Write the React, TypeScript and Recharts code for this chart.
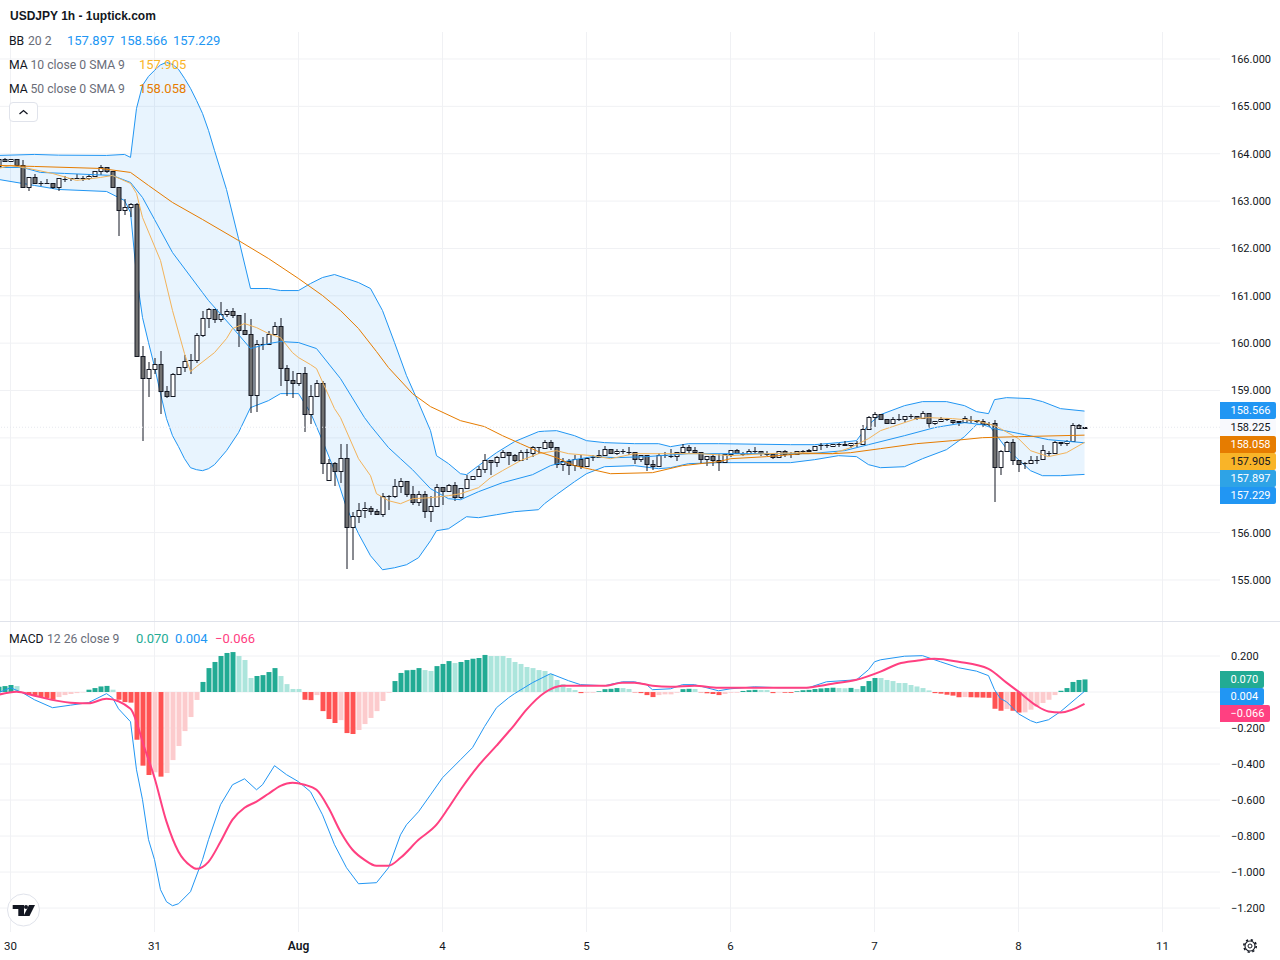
import React from "react";
import {
  Area,
  Bar,
  CartesianGrid,
  Cell,
  ComposedChart,
  Line,
  ReferenceLine,
  XAxis,
  YAxis,
} from "recharts";

const FONT = "Roboto, sans-serif";
const TEXT = "#131722";
const GRID = "#f0f1f4";

const firstBar = -2;

const opens = [
  163.74,163.894,163.851,163.894,163.767,163.302,163.513,163.387,163.39,163.387,
  163.302,163.47,163.485,163.49,163.49,163.492,163.534,163.64,163.725,163.64,
  163.302,162.816,162.879,162.943,159.731,159.266,159.457,159.562,158.992,158.879,
  159.351,159.499,159.63,159.647,160.175,160.534,160.724,160.513,160.619,160.675,
  160.598,160.281,160.196,158.907,159.985,159.985,160.196,160.365,159.478,159.224,
  159.161,159.372,158.506,158.886,159.161,157.111,157.47,157.301,157.576,156.118,
  156.351,156.477,156.52,156.456,156.393,156.766,156.77,156.985,157.09,156.816,
  156.646,156.816,156.456,156.562,156.963,156.879,157.006,156.752,156.942,157.132,
  157.196,157.344,157.534,157.499,157.597,157.703,157.64,157.534,157.696,157.682,
  157.8,157.788,157.914,157.809,157.449,157.513,157.428,157.555,157.414,157.59,
  157.597,157.64,157.766,157.682,157.724,157.71,157.703,157.555,157.64,157.449,
  157.407,157.64,157.625,157.618,157.703,157.809,157.745,157.703,157.555,157.618,
  157.534,157.492,157.661,157.745,157.668,157.661,157.71,157.724,157.661,157.661,
  157.597,157.724,157.668,157.661,157.724,157.745,157.745,157.851,157.844,157.83,
  157.858,157.872,157.851,157.886,157.871,158.188,158.435,158.505,158.4,158.315,
  158.4,158.386,158.456,158.456,158.421,158.526,158.315,158.357,158.4,158.379,
  158.357,158.336,158.386,158.379,158.357,158.301,158.315,157.379,157.724,157.907,
  157.533,157.463,157.463,157.533,157.555,157.674,157.674,157.907,157.886,157.935,158.273,158.21,
];

const highs = [
  163.9,163.9,163.894,163.894,163.858,163.513,163.577,163.429,163.464,163.387,
  163.492,163.534,163.492,163.563,163.527,163.57,163.64,163.767,163.725,163.64,
  163.302,163.048,162.964,162.957,159.95,159.612,159.689,159.844,159.104,159.365,
  159.5,159.752,159.774,160.217,160.689,160.745,160.724,160.879,160.724,160.745,
  160.598,160.64,160.513,160.069,160.14,160.252,160.45,160.534,159.548,159.421,
  159.372,159.506,159.126,159.231,159.21,157.555,157.499,157.872,157.872,156.442,
  156.625,156.654,156.562,156.492,156.844,156.794,157.132,157.154,157.09,156.985,
  156.872,156.872,156.773,157.027,156.963,157.027,157.069,156.942,157.224,157.196,
  157.414,157.661,157.54,157.625,157.745,157.703,157.661,157.745,157.773,157.837,
  157.81,157.957,157.957,157.809,157.576,157.555,157.64,157.64,157.604,157.64,
  157.745,157.837,157.766,157.766,157.766,157.816,157.703,157.64,157.64,157.534,
  157.682,157.703,157.766,157.703,157.872,157.851,157.809,157.703,157.618,157.661,
  157.661,157.661,157.745,157.766,157.71,157.766,157.809,157.724,157.717,157.661,
  157.724,157.752,157.703,157.724,157.752,157.766,157.83,157.893,157.879,157.872,
  157.9,157.928,157.893,157.942,158.273,158.47,158.555,158.505,158.4,158.449,
  158.505,158.455,158.512,158.456,158.576,158.526,158.357,158.449,158.421,158.379,
  158.357,158.456,158.47,158.379,158.4,158.343,158.379,157.745,157.942,157.977,
  157.533,157.498,157.618,157.611,157.85,157.717,157.928,157.914,157.963,158.322,158.294,158.24,
];

const lows = [
  163.73,163.85,163.851,163.767,163.302,163.225,163.387,163.33,163.38,163.267,
  163.225,163.415,163.45,163.485,163.45,163.457,163.534,163.563,163.605,163.302,
  162.274,162.724,162.689,159.731,157.963,158.893,159.372,158.52,158.858,158.879,
  159.351,159.421,159.372,159.597,160.147,160.337,160.443,160.478,160.569,160.548,
  159.936,160.196,158.541,158.562,159.872,159.985,160.196,159.126,158.914,158.858,
  159.126,158.154,158.309,158.886,157.252,157.111,156.999,157.062,155.245,155.435,
  156.217,156.323,156.386,156.393,156.344,156.492,156.759,156.865,156.773,156.604,
  156.59,156.323,156.238,156.562,156.604,156.879,156.689,156.731,156.942,157.132,
  157.196,157.273,157.238,157.414,157.597,157.449,157.506,157.534,157.555,157.625,
  157.682,157.788,157.766,157.393,157.323,157.238,157.323,157.365,157.414,157.534,
  157.597,157.64,157.682,157.661,157.689,157.661,157.463,157.506,157.323,157.344,
  157.407,157.59,157.59,157.534,157.703,157.682,157.703,157.471,157.428,157.428,
  157.323,157.485,157.625,157.682,157.633,157.661,157.682,157.64,157.633,157.576,
  157.597,157.618,157.597,157.661,157.71,157.724,157.745,157.773,157.809,157.83,
  157.83,157.844,157.816,157.836,157.871,158.188,158.245,158.4,158.315,158.315,
  158.386,158.35,158.428,158.4,158.421,158.224,158.301,158.357,158.379,158.315,
  158.28,158.336,158.343,158.336,158.252,158.259,156.674,157.245,157.724,157.442,
  157.308,157.371,157.463,157.463,157.555,157.639,157.674,157.85,157.85,157.935,158.21,158.2,
];

const closes = [
  163.88,163.851,163.894,163.767,163.302,163.513,163.387,163.39,163.385,163.302,
  163.492,163.475,163.49,163.495,163.495,163.534,163.64,163.725,163.64,163.302,
  162.816,162.879,162.943,159.731,159.266,159.457,159.562,158.992,158.879,159.351,
  159.499,159.626,159.635,160.175,160.534,160.724,160.513,160.619,160.675,160.598,
  160.281,160.196,158.907,159.985,159.99,160.196,160.365,159.478,159.224,159.161,
  159.372,158.506,158.886,159.161,157.47,157.47,157.301,157.576,156.118,156.351,
  156.477,156.52,156.456,156.393,156.766,156.77,156.985,157.09,156.816,156.646,
  156.816,156.456,156.562,156.963,156.879,157.006,156.752,156.942,157.132,157.196,
  157.344,157.534,157.499,157.597,157.703,157.64,157.534,157.703,157.7,157.809,
  157.805,157.914,157.809,157.449,157.513,157.428,157.555,157.414,157.576,157.595,
  157.64,157.766,157.682,157.724,157.727,157.706,157.555,157.64,157.449,157.407,
  157.64,157.645,157.62,157.703,157.809,157.745,157.703,157.555,157.618,157.534,
  157.492,157.661,157.745,157.682,157.665,157.724,157.714,157.682,157.657,157.597,
  157.724,157.661,157.664,157.724,157.728,157.724,157.83,157.848,157.847,157.872,
  157.862,157.844,157.893,157.89,158.188,158.435,158.505,158.4,158.315,158.4,
  158.395,158.455,158.46,158.414,158.526,158.315,158.357,158.4,158.396,158.336,
  158.336,158.414,158.383,158.357,158.294,158.298,157.379,157.724,157.907,157.533,
  157.442,157.467,157.533,157.537,157.738,157.67,157.907,157.886,157.935,158.273,158.21,158.225,
];

const macdHist = [
  0.03,0.033,0.039,0.033,-0.004,-0.017,-0.02,-0.028,-0.033,-0.043,
  -0.028,-0.017,-0.011,-0.006,-0.002,0.013,0.022,0.031,0.034,0.013,
  -0.043,-0.056,-0.059,-0.265,-0.409,-0.461,-0.446,-0.47,-0.45,-0.378,
  -0.3,-0.217,-0.139,-0.044,0.056,0.133,0.167,0.2,0.217,0.222,
  0.2,0.178,0.078,0.089,0.094,0.111,0.133,0.089,0.044,0.017,
  0.017,-0.043,-0.045,-0.017,-0.106,-0.15,-0.172,-0.156,-0.228,-0.233,
  -0.211,-0.178,-0.144,-0.106,-0.05,-0.004,0.061,0.106,0.121,0.123,
  0.133,0.122,0.117,0.144,0.156,0.172,0.161,0.167,0.178,0.185,
  0.189,0.206,0.2,0.2,0.2,0.189,0.167,0.156,0.139,0.133,
  0.122,0.117,0.1,0.067,0.044,0.022,0.011,-0.006,-0.004,-0.004,
  0.004,0.016,0.018,0.022,0.022,0.017,-0.002,-0.006,-0.017,-0.028,
  -0.017,-0.013,-0.013,-0.004,0.016,0.018,0.017,-0.002,-0.007,-0.011,
  -0.017,-0.011,-0.004,-0.004,0.006,0.01,0.012,0.011,0.011,-0.006,
  -0.002,-0.004,-0.005,0.004,0.01,0.012,0.017,0.02,0.022,0.024,
  0.022,0.021,0.023,0.017,0.033,0.061,0.078,0.078,0.067,0.061,
  0.05,0.05,0.039,0.031,0.022,0.009,-0.006,-0.009,-0.015,-0.02,
  -0.029,-0.028,-0.029,-0.03,-0.031,-0.032,-0.093,-0.104,-0.094,-0.104,
  -0.114,-0.113,-0.098,-0.081,-0.061,-0.043,-0.017,0.007,0.022,0.056,0.067,0.07,
];

// [bar, lower, upper]
const bollingerBand = [
  [-2,163.457,163.964],[4,163.33,163.985],[8,163.245,163.97],[16,163.203,163.964],[19,163.013,163.985],
  [20,162.759,163.922],[21,161.428,164.957],[22,160.541,165.443],[23,160.013,165.633],[24,159.505,165.76],
  [25,158.935,165.876],[26,158.407,165.929],[27,158.047,165.887],[28,157.815,165.781],[29,157.561,165.591],
  [30,157.371,165.38],[31,157.329,165.126],[32,157.308,164.851],[33,157.35,164.492],[34,157.435,164.069],
  [36,157.73,163.245],[38,158.111,162.21],[40,158.639,161.154],[43,158.787,161.154],[45,158.935,161.111],
  [48,158.935,161.111],[50,158.533,161.259],[52,157.942,161.386],[54,157.308,161.449],[56,156.526,161.365],
  [58,155.977,161.28],[60,155.512,161.154],[62,155.216,160.689],[64,155.258,160.013],[66,155.322,159.315],
  [68,155.47,158.745],[70,155.829,158.153],[71,156.04,157.625],[73,156.082,157.456],[75,156.251,157.244],
  [76,156.336,157.223],[78,156.315,157.414],[81,156.378,157.688],[84,156.442,157.921],[88,156.484,158.132],
  [89,156.611,158.142],[91,156.801,158.153],[94,157.075,158.047],[96,157.244,157.942],[99,157.392,157.9],
  [104,157.414,157.878],[108,157.35,157.878],[110,157.371,157.815],[113,157.456,157.878],[118,157.477,157.878],
  [130,157.477,157.857],[134,157.54,157.857],[138,157.625,157.9],[141,157.604,157.942],[143,157.435,158.28],
  [145,157.371,158.491],[149,157.392,158.681],[152,157.561,158.766],[156,157.752,158.766],[159,158.026,158.681],
  [161,158.28,158.555],[163,158.28,158.512],[164,158.111,158.808],[166,157.773,158.85],[170,157.308,158.829],
  [172,157.202,158.766],[175,157.202,158.618],[179,157.229,158.566],
];

const bollingerBasis = [
  [-2,163.71],[2,163.71],[5,163.605],[9,163.584],[17,163.541],[20,163.393],[22,163.076],[24,162.612],
  [27,161.914],[32,161.069],[33,160.9],[37,160.329],[40,159.886],[43,159.991],[45,160.034],[48,160.013],
  [51,159.886],[55,159.252],[59,158.428],[60,158.259],[63,157.794],[65,157.561],[67,157.329],[70,156.928],
  [73,156.716],[75,156.695],[78,156.864],[82,157.054],[87,157.223],[90,157.414],[93,157.519],[97,157.604],
  [101,157.583],[106,157.604],[113,157.667],[125,157.667],[133,157.667],[139,157.73],[143,157.857],
  [149,158.047],[154,158.216],[159,158.322],[162,158.28],[164,158.195],[169,158.069],[173,157.963],[179,157.897],
];

const ma10 = [
  [-2,163.689],[0,163.753],[3,163.689],[7,163.584],[11,163.436],[15,163.499],[17,163.541],[20,163.372],
  [21,163.161],[22,162.654],[25,161.745],[27,160.689],[29,159.78],[30,159.4],[31,159.505],[34,159.801],
  [36,160.097],[37,160.308],[39,160.414],[41,160.329],[43,160.203],[45,160.118],[47,159.801],[48,159.696],
  [50,159.548],[51,159.463],[54,158.618],[55,158.428],[58,157.561],[60,157.202],[61,156.822],[63,156.674],
  [65,156.611],[67,156.716],[70,156.737],[73,156.78],[75,156.822],[78,156.949],[80,157.16],[82,157.308],
  [85,157.519],[88,157.667],[91,157.73],[93,157.667],[97,157.625],[100,157.561],[104,157.667],[109,157.667],
  [115,157.667],[120,157.625],[126,157.667],[132,157.688],[137,157.667],[140,157.794],[143,157.984],
  [145,158.153],[151,158.407],[153,158.428],[157,158.407],[161,158.364],[164,158.259],[165,158.195],
  [168,157.984],[170,157.73],[173,157.604],[176,157.688],[179,157.905],
];

const ma50 = [
  [-2,163.753],[4,163.731],[15,163.689],[20,163.605],[23,163.33],[27,162.971],[32,162.612],[38,162.168],
  [43,161.787],[48,161.365],[52,161.006],[55,160.689],[58,160.308],[61,159.822],[63,159.484],[67,158.935],
  [70,158.66],[75,158.364],[79,158.238],[82,158.047],[85,157.878],[88,157.709],[91,157.583],[94,157.414],
  [97,157.329],[100,157.244],[107,157.266],[112,157.414],[118,157.498],[120,157.561],[126,157.604],
  [132,157.667],[137,157.667],[140,157.688],[145,157.773],[151,157.878],[157,157.942],[162,158.005],
  [168,158.026],[179,158.058],
];

const macdLine = [
  [-2,-0.004],[0,0.024],[2,-0.004],[4,-0.043],[7,-0.087],[10,-0.073],[13,-0.059],[16,-0.009],[17,-0.032],
  [18,-0.093],[20,-0.165],[21,-0.432],[22,-0.598],[23,-0.82],[24,-0.931],[25,-1.098],[26,-1.165],[27,-1.187],
  [28,-1.176],[30,-1.109],[32,-0.931],[33,-0.82],[35,-0.626],[37,-0.515],[39,-0.482],[41,-0.543],[42,-0.515],
  [44,-0.409],[46,-0.459],[48,-0.498],[50,-0.554],[52,-0.682],[54,-0.848],[56,-0.976],[58,-1.065],[61,-1.059],
  [63,-0.976],[65,-0.793],[66,-0.737],[68,-0.665],[70,-0.571],[72,-0.476],[75,-0.376],[77,-0.309],[79,-0.192],
  [81,-0.087],[83,-0.032],[84,-0.009],[87,0.052],[90,0.102],[93,0.063],[95,0.041],[99,0.035],[102,0.057],
  [104,0.057],[106,0.041],[107,0.013],[110,0.018],[112,0.041],[114,0.041],[118,0.007],[120,0.018],[124,0.029],
  [128,0.024],[133,0.024],[136,0.057],[141,0.068],[143,0.124],[144,0.168],[145,0.179],[149,0.199],[152,0.202],
  [155,0.168],[158,0.135],[161,0.116],[163,0.091],[164,0.013],[165,-0.037],[166,-0.054],[168,-0.121],
  [170,-0.159],[171,-0.171],[173,-0.154],[175,-0.109],[179,0.004],
];

const signalLine = [
  [-2,-0.015],[1,0.002],[4,-0.021],[10,-0.059],[13,-0.062],[16,-0.037],[20,-0.093],[21,-0.165],[22,-0.276],
  [24,-0.476],[26,-0.72],[28,-0.887],[30,-0.965],[31,-0.982],[33,-0.943],[35,-0.832],[37,-0.709],[39,-0.643],
  [41,-0.609],[43,-0.565],[45,-0.521],[47,-0.504],[49,-0.515],[51,-0.543],[53,-0.643],[55,-0.776],[57,-0.876],
  [59,-0.932],[61,-0.965],[63,-0.965],[65,-0.921],[68,-0.821],[71,-0.737],[73,-0.643],[75,-0.543],[78,-0.409],
  [81,-0.298],[84,-0.182],[86,-0.098],[89,-0.004],[92,0.035],[99,0.035],[102,0.052],[104,0.052],[107,0.035],
  [110,0.029],[114,0.035],[118,0.024],[132,0.024],[137,0.046],[141,0.068],[145,0.113],[148,0.157],[151,0.174],
  [154,0.185],[158,0.168],[163,0.129],[166,0.052],[168,0.002],[171,-0.076],[173,-0.108],[175,-0.114],[179,-0.066],
];

const dayTicks = [0, 24, 48, 72, 96, 120, 144, 168, 192];
const dayLabels = ["30", "31", "Aug", "4", "5", "6", "7", "8", "11"];
const priceTicks = [155, 156, 157, 158, 159, 160, 161, 162, 163, 164, 165, 166];
const hiddenPriceLabels = [157, 158];
const macdTicks = [0.2, 0, -0.2, -0.4, -0.6, -0.8, -1, -1.2];
const hiddenMacdLabels = [0];

const lastClose = 158.225;
const priceTags = [
  { text: "158.566", top: 402, bg: "#2196f3", fg: "#ffffff" },
  { text: "158.225", top: 419, bg: "#f8f9fd", fg: "#131722" },
  { text: "158.058", top: 436, bg: "#e67c00", fg: "#ffffff" },
  { text: "157.905", top: 453, bg: "#f9b428", fg: "#131722" },
  { text: "157.897", top: 470, bg: "#2ea3e6", fg: "#ffffff" },
  { text: "157.229", top: 487, bg: "#2196f3", fg: "#ffffff" },
];
const macdTags = [
  { text: "0.070", top: 671, width: 44, bg: "#22ab94" },
  { text: "0.004", top: 688, width: 44, bg: "#2196f3" },
  { text: "\u22120.066", top: 705, width: 50, bg: "#ff4081" },
];

const X_DOMAIN: [number, number] = [-1.75, 201.583];
const PRICE_DOMAIN: [number, number] = [154.134, 166.57];
const MACD_DOMAIN: [number, number] = [-1.333, 0.389];
const PLOT_WIDTH = 1220;
const PRICE_TOP = 32;
const PRICE_HEIGHT = 589;
const MACD_HEIGHT = 310;

// grid positions, in the same scale the axes use
const gridX = dayTicks.map(
  (t) => ((t - X_DOMAIN[0]) / (X_DOMAIN[1] - X_DOMAIN[0])) * PLOT_WIDTH,
);
const gridPrice = priceTicks.map(
  (t) =>
    PRICE_TOP +
    ((PRICE_DOMAIN[1] - t) / (PRICE_DOMAIN[1] - PRICE_DOMAIN[0])) * PRICE_HEIGHT,
);
const gridMacd = macdTicks.map(
  (t) => ((MACD_DOMAIN[1] - t) / (MACD_DOMAIN[1] - MACD_DOMAIN[0])) * MACD_HEIGHT,
);

const toMap = (knots: number[][]) => new Map(knots.map((k) => [k[0], k[1]]));
const bandMap = new Map(bollingerBand.map((k) => [k[0], [k[1], k[2]]]));
const basisMap = toMap(bollingerBasis);
const ma10Map = toMap(ma10);
const ma50Map = toMap(ma50);
const macdMap = toMap(macdLine);
const signalMap = toMap(signalLine);

const priceRows = opens.map((open, k) => {
  const bar = k + firstBar;
  return {
    bar,
    open,
    close: closes[k],
    range: [lows[k], highs[k]],
    band: bandMap.get(bar) ?? null,
    basis: basisMap.get(bar) ?? null,
    ma10: ma10Map.get(bar) ?? null,
    ma50: ma50Map.get(bar) ?? null,
  };
});

const macdRows = macdHist.map((hist, k) => {
  const bar = k + firstBar;
  return {
    bar,
    hist,
    macd: macdMap.get(bar) ?? null,
    signal: signalMap.get(bar) ?? null,
  };
});

function histColor(k: number): string {
  const h = macdHist[k];
  const prev = k > 0 ? macdHist[k - 1] : -Infinity;
  if (h >= 0) return h > prev ? "#22ab94" : "#ace5dc";
  return h < prev ? "#ff5252" : "#fccbcd";
}

const Candle = (props: any) => {
  const { x, y, width, height, payload } = props;
  const [low, high] = payload.range;
  const perUnit = height / (high - low);
  const yOpen = y + (high - payload.open) * perUnit;
  const yClose = y + (high - payload.close) * perUnit;
  // snap the body to whole pixels so the outline stays crisp
  const top = Math.round(Math.min(yOpen, yClose)) + 0.5;
  const bodyH = Math.round(Math.abs(yOpen - yClose));
  const up = payload.close >= payload.open;
  const cx = x + width / 2;
  const wickTop = Math.round(y);
  const wickBottom = Math.round(y + height) + 1;
  return (
    <g>
      <line x1={cx} x2={cx} y1={wickTop} y2={wickBottom} stroke={TEXT} strokeWidth={1} />
      {bodyH > 0 ? (
        <rect
          x={x + 0.5}
          y={top}
          width={width - 1}
          height={bodyH}
          fill={up ? "#ffffff" : "#707070"}
          stroke={TEXT}
          strokeWidth={1}
        />
      ) : (
        <line x1={x} x2={x + width} y1={top} y2={top} stroke={TEXT} strokeWidth={1} />
      )}
    </g>
  );
};

const DayTick = (props: any) => {
  const { x, y, payload } = props;
  const label = dayLabels[dayTicks.indexOf(payload.value)];
  return (
    <text
      x={x}
      y={y}
      textAnchor="middle"
      dominantBaseline="central"
      fontFamily={FONT}
      fontSize={label === "Aug" ? 12 : 11.5}
      fontWeight={label === "Aug" ? 600 : 400}
      fill={TEXT}
    >
      {label}
    </text>
  );
};

const formatPrice = (v: number) =>
  hiddenPriceLabels.includes(v) ? "" : v.toFixed(3);
const formatMacd = (v: number) => {
  if (hiddenMacdLabels.includes(v)) return "";
  return v < 0 ? `\u2212${Math.abs(v).toFixed(3)}` : v.toFixed(3);
};

const axisTick = { fill: TEXT, fontSize: 11, fontFamily: FONT };
const NAME_SIZE = 12.2;

const Label = ({ x, y, color, bold, size, children, family }: any) => (
  <div
    style={{
      position: "absolute",
      left: x,
      top: y - 10,
      height: 20,
      lineHeight: "20px",
      whiteSpace: "nowrap",
      fontFamily: family ?? FONT,
      fontSize: size ?? 13,
      fontWeight: bold ? 700 : 400,
      color,
    }}
  >
    {children}
  </div>
);

const App = () => {
  return (
    <div
      style={{
        position: "absolute",
        left: 0,
        top: 0,
        width: 1280,
        height: 960,
        background: "#ffffff",
        overflow: "hidden",
      }}
    >
      <div style={{ position: "absolute", left: 0, top: 0 }}>
        <ComposedChart
          width={1280}
          height={621}
          data={priceRows}
          margin={{ top: PRICE_TOP, right: 0, bottom: 0, left: 0 }}
        >
          <CartesianGrid
            stroke={GRID}
            strokeWidth={1}
            verticalPoints={gridX}
            horizontalPoints={gridPrice}
          />
          <XAxis
            dataKey="bar"
            type="number"
            domain={X_DOMAIN}
            allowDataOverflow
            ticks={dayTicks}
            hide
          />
          <YAxis
            orientation="right"
            width={60}
            domain={PRICE_DOMAIN}
            allowDataOverflow
            ticks={priceTicks}
            interval={0}
            tickFormatter={formatPrice}
            tick={axisTick}
            tickLine={false}
            axisLine={false}
            tickMargin={5}
          />
          <Area
            dataKey="band"
            type="linear"
            connectNulls
            stroke="#2196f3"
            strokeWidth={1}
            fill="#2196f3"
            fillOpacity={0.1}
            dot={false}
            activeDot={false}
            isAnimationActive={false}
          />
          <Line dataKey="basis" type="linear" connectNulls stroke="#2196f3" strokeWidth={1} dot={false} activeDot={false} isAnimationActive={false} />
          <Line dataKey="ma10" type="linear" connectNulls stroke="#f3b35a" strokeWidth={1} dot={false} activeDot={false} isAnimationActive={false} />
          <Line dataKey="ma50" type="linear" connectNulls stroke="#e67c00" strokeWidth={1} dot={false} activeDot={false} isAnimationActive={false} />
          <Bar dataKey="range" barSize={5} shape={Candle} isAnimationActive={false} />
          <ReferenceLine y={lastClose} stroke="#e6e8ee" strokeDasharray="1 2" />
        </ComposedChart>
      </div>

      <div style={{ position: "absolute", left: 0, top: 621, width: 1280, height: 1, background: "#e0e3eb" }} />

      <div style={{ position: "absolute", left: 0, top: 622 }}>
        <ComposedChart
          width={1280}
          height={338}
          data={macdRows}
          margin={{ top: 0, right: 0, bottom: 0, left: 0 }}
        >
          <CartesianGrid
            stroke={GRID}
            strokeWidth={1}
            verticalPoints={gridX}
            horizontalPoints={gridMacd}
          />
          <XAxis
            dataKey="bar"
            type="number"
            domain={X_DOMAIN}
            allowDataOverflow
            ticks={dayTicks}
            interval={0}
            height={28}
            tick={<DayTick />}
            tickLine={false}
            axisLine={false}
            tickMargin={8}
          />
          <YAxis
            orientation="right"
            width={60}
            domain={MACD_DOMAIN}
            allowDataOverflow
            ticks={macdTicks}
            interval={0}
            tickFormatter={formatMacd}
            tick={axisTick}
            tickLine={false}
            axisLine={false}
            tickMargin={5}
          />
          <Bar dataKey="hist" barSize={5} isAnimationActive={false}>
            {macdRows.map((row, k) => (
              <Cell key={row.bar} fill={histColor(k)} />
            ))}
          </Bar>
          <Line dataKey="macd" type="linear" connectNulls stroke="#2196f3" strokeWidth={1} dot={false} activeDot={false} isAnimationActive={false} />
          <Line dataKey="signal" type="monotone" connectNulls stroke="#ff4081" strokeWidth={2} dot={false} activeDot={false} isAnimationActive={false} />
        </ComposedChart>
      </div>

      <Label x={10} y={16} color={TEXT} bold size={12} family="'Liberation Sans', Arial, sans-serif">
        USDJPY 1h - 1uptick.com
      </Label>

      <Label x={9} y={41} size={NAME_SIZE} color={TEXT}>BB</Label>
      <Label x={28} y={41} size={NAME_SIZE} color="#6a6d78">20 2</Label>
      <Label x={67} y={41} color="#2196f3">157.897</Label>
      <Label x={120} y={41} color="#2196f3">158.566</Label>
      <Label x={173} y={41} color="#2196f3">157.229</Label>

      <Label x={9} y={65} size={NAME_SIZE} color={TEXT}>MA</Label>
      <Label x={30.5} y={65} size={NAME_SIZE} color="#6a6d78">10 close 0 SMA 9</Label>
      <Label x={139} y={65} color="#f9b428">157.905</Label>

      <Label x={9} y={89} size={NAME_SIZE} color={TEXT}>MA</Label>
      <Label x={30.5} y={89} size={NAME_SIZE} color="#6a6d78">50 close 0 SMA 9</Label>
      <Label x={139} y={89} color="#e67c00">158.058</Label>

      <div
        style={{
          position: "absolute",
          left: 9,
          top: 102,
          width: 29,
          height: 20,
          boxSizing: "border-box",
          border: "1px solid #e0e3eb",
          borderRadius: 4,
          background: "#ffffff",
        }}
      >
        <svg width={27} height={18} style={{ display: "block" }}>
          <path d="M9.5 11 L13.5 7.5 L17.5 11" fill="none" stroke={TEXT} strokeWidth={1.3} />
        </svg>
      </div>

      <Label x={9} y={639} size={NAME_SIZE} color={TEXT}>MACD</Label>
      <Label x={47} y={639} size={NAME_SIZE} color="#6a6d78">12 26 close 9</Label>
      <Label x={136} y={639} color="#22ab94">0.070</Label>
      <Label x={175} y={639} color="#2196f3">0.004</Label>
      <Label x={215} y={639} color="#ff4081">{"\u22120.066"}</Label>

      {priceTags.map((tag) => (
        <div
          key={tag.text}
          style={{
            position: "absolute",
            left: 1220,
            top: tag.top,
            width: 56,
            height: 17,
            lineHeight: "17px",
            paddingLeft: 10.5,
            boxSizing: "border-box",
            background: tag.bg,
            color: tag.fg,
            fontFamily: FONT,
            fontSize: 11,
            borderRadius: "0 2px 2px 0",
          }}
        >
          {tag.text}
        </div>
      ))}
      {macdTags.map((tag) => (
        <div
          key={tag.text}
          style={{
            position: "absolute",
            left: 1220,
            top: tag.top,
            width: tag.width,
            height: 17,
            lineHeight: "17px",
            paddingLeft: 10.5,
            boxSizing: "border-box",
            background: tag.bg,
            color: "#ffffff",
            fontFamily: FONT,
            fontSize: 11,
            borderRadius: "0 2px 2px 0",
          }}
        >
          {tag.text}
        </div>
      ))}

      <svg width={40} height={40} style={{ position: "absolute", left: 4, top: 890 }}>
        <circle cx={19.5} cy={20} r={16} fill="#ffffff" stroke="#e0e3eb" />
        <path d="M8.7 15 H20 V26 H14.3 V19 H8.7 Z" fill={TEXT} />
        <circle cx={22} cy={17} r={2} fill={TEXT} />
        <path d="M25 15 H31 L25.5 26 H19.5 Z" fill={TEXT} />
      </svg>

      <svg width={18} height={18} style={{ position: "absolute", left: 1241, top: 937 }}>
        <circle cx={9} cy={9} r={5} fill="none" stroke={TEXT} strokeWidth={1.1} />
        <circle cx={9} cy={9} r={2} fill="none" stroke={TEXT} strokeWidth={1} />
        <circle cx={9} cy={9} r={6.2} fill="none" stroke={TEXT} strokeWidth={1.6} strokeDasharray="2.2 2.67" />
      </svg>
    </div>
  );
};

export default App;
